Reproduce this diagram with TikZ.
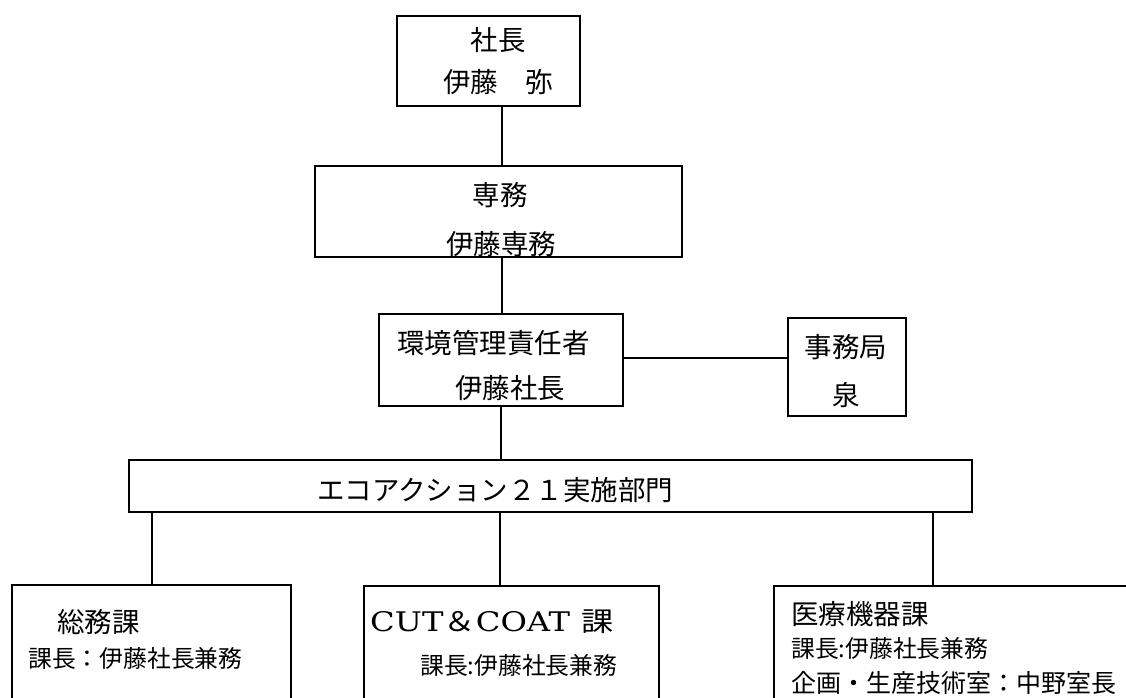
\documentclass[tikz,border=0pt]{standalone}
\usepackage{fontspec}
\setmainfont{Liberation Serif}
\newfontfamily\cjk{Noto Sans CJK JP}
\newfontfamily\cent{DejaVu Serif}
\begin{document}
\begin{tikzpicture}[x=1pt,y=-1pt,
  box/.style={draw=black, line width=1.6pt, inner sep=0pt, rectangle},
  link/.style={draw=black, line width=1.4pt},
  thinlink/.style={draw=black, line width=1.1pt},
  big/.style={inner sep=0pt, font=\cjk\fontsize{27.5}{30}\selectfont},
  small/.style={inner sep=0pt, font=\cjk\fontsize{23.8}{26}\selectfont},
  mid/.style={inner sep=0pt, font=\cjk\fontsize{25}{28}\selectfont}]
\useasboundingbox[fill=white] (0,0) rectangle (1126,697);

% boxes
\node[box, minimum width=183pt, minimum height=90pt] (ceo) at (488.5,61) {};
\node[box, minimum width=367pt, minimum height=91pt] (sen) at (498.5,211.5) {};
\node[box, minimum width=244pt, minimum height=92pt] (env) at (501,360) {};
\node[box, minimum width=118pt, minimum height=98pt] (jim) at (847,367) {};
\node[box, minimum width=843pt, minimum height=52pt] (bar) at (550.5,486) {};
\node[box, minimum width=279pt, minimum height=135pt] (som) at (151.5,652.5) {};
\node[box, minimum width=295pt, minimum height=134pt] (cut) at (511.5,653) {};
\node[box, minimum width=366pt, minimum height=134pt] (med) at (957,653) {};

% texts
\node[big] (t1) at (498,40) {社長};
\node[big, anchor=west] (t2) at (443,82) {伊藤　弥};
\node[big] (t3) at (500,195) {専務};
\node[big] (t4) at (501,244) {伊藤専務};
\node[big, anchor=west] (t5) at (397,343) {環境管理責任者};
\node[big, anchor=west] (t6) at (455,388) {伊藤社長};
\node[big] (t7) at (846,347) {事務局};
\node[big] (t8) at (846,395) {泉};
\node[big, anchor=west] (t9) at (317,490) {エコアクション２１実施部門};
\node[big, anchor=west] (t10) at (57,622) {総務課};
\node[small, anchor=west] (t11) at (28,658) {課長：伊藤社長兼務};
\node[inner sep=0pt, anchor=west, font=\fontsize{27}{30}\selectfont] (t12) at (370,622)
  {\resizebox{244pt}{\height}{{\cent CUT}{\cjk ＆}{\cent COAT}\hspace{10pt}{\cjk 課}}};
\node[small, anchor=west] (t13) at (420,665) {課長:伊藤社長兼務};
\node[big, anchor=west] (t14) at (791,614) {医療機器課};
\node[small, anchor=west] (t15) at (791,648) {課長:伊藤社長兼務};
\node[mid, anchor=west] (t16) at (791,683) {企画・生産技術室：中野室長};

% connectors
\coordinate (xa) at (502,0);
\coordinate (xb) at (501,0);
\coordinate (xl) at (152,0);
\coordinate (xm) at (500,0);
\coordinate (xr) at (933,0);
\draw[link] (xa |- ceo.south) -- (xa |- sen.north);
\draw[link] (xa |- sen.south) -- (xa |- env.north);
\draw[link] (xb |- env.south) -- (xb |- bar.north);
\draw[link] ([yshift=2pt]env.east) -- ([yshift=2pt]env.east -| jim.west);
\draw[thinlink] (xl |- bar.south) -- (xl |- som.north);
\draw[link] (xm |- bar.south) -- (xm |- cut.north);
\draw[link] (xr |- bar.south) -- (xr |- med.north);
\end{tikzpicture}
\end{document}
